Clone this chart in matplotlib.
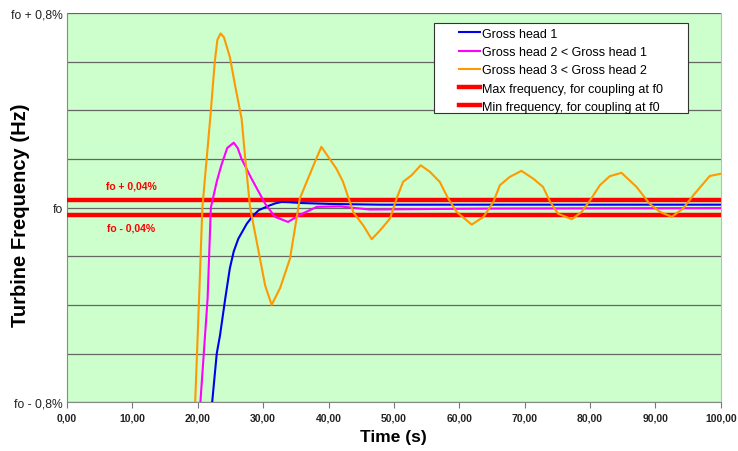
import numpy as np
import matplotlib
matplotlib.use('Agg')
import matplotlib.pyplot as plt
from matplotlib.patches import Rectangle

plt.rcParams['font.family'] = ['Liberation Sans', 'DejaVu Sans']

# ---- data (time in s, deviation from fo in %) ----
head1_t = [21.0, 22.2, 22.9, 23.4, 24.2, 24.9, 25.5, 26.2, 27.5, 28.4, 29.3,
           30.8, 31.8, 32.8, 34.0, 35.6, 40.2, 47.9, 60.0, 80.0, 100.0]
head1_y = [-1.2, -0.8, -0.6, -0.525, -0.374, -0.25, -0.18, -0.128, -0.066,
           -0.035, -0.011, 0.007, 0.017, 0.023, 0.022, 0.019, 0.015, 0.012,
           0.012, 0.012, 0.012]

head2_t = [19.5, 20.4, 21.5, 22.0, 22.9, 23.6, 24.5, 25.5, 26.1, 26.7, 28.2,
           30.3, 31.8, 33.8, 35.6, 38.2, 41.7, 46.3, 55.0, 65.0, 80.0, 100.0]
head2_y = [-1.2, -0.8, -0.374, 0.0, 0.107, 0.174, 0.245, 0.267, 0.245, 0.2,
           0.12, 0.016, -0.038, -0.059, -0.03, 0.003, 0.005, -0.008, -0.006,
           -0.004, -0.003, -0.002]

head3_t = [18.9, 19.6, 20.2, 20.7, 21.9, 22.6, 23.0, 23.5, 24.0, 24.9, 25.7,
           26.7, 27.3, 28.0, 29.3, 30.3, 31.3, 32.6, 34.1, 35.6, 37.7, 38.9,
           41.2, 42.2, 43.8, 45.3, 46.6, 47.9, 49.4, 50.4, 51.4, 52.7, 54.1,
           55.5, 57.0, 58.3, 59.6, 61.9, 63.7, 65.2, 66.2, 67.7, 69.5, 71.3,
           72.8, 73.9, 75.1, 77.2, 78.7, 80.0, 81.5, 83.0, 84.8, 87.1, 89.1,
           90.7, 92.5, 94.2, 95.8, 98.3, 100.0]
head3_y = [-1.2, -0.8, -0.374, 0.0, 0.366, 0.6, 0.69, 0.716, 0.70, 0.62, 0.503,
           0.366, 0.19, 0.0, -0.18, -0.32, -0.40, -0.33, -0.21, 0.037, 0.174,
           0.25, 0.16, 0.107, -0.02, -0.073, -0.13, -0.093, -0.045, 0.037,
           0.106, 0.133, 0.174, 0.147, 0.106, 0.037, -0.018, -0.07, -0.038,
           0.023, 0.092, 0.126, 0.151, 0.119, 0.085, 0.023, -0.025, -0.048,
           -0.018, 0.03, 0.092, 0.129, 0.143, 0.085, 0.016, -0.018, -0.038,
           -0.004, 0.051, 0.13, 0.139]

f_max = 0.032
f_min = -0.032

x_ticks = np.arange(0, 101, 10)
x_labels = [f'{v:.2f}'.replace('.', ',') for v in x_ticks]
y_grid = np.arange(-0.8, 0.81, 0.2)
y_labels = {-0.8: 'fo - 0,8%', 0.0: 'fo', 0.8: 'fo + 0,8%'}


def main():
    fig = plt.figure(figsize=(7.38, 4.52), dpi=100)
    ax = fig.add_axes([0.0908, 0.108, 0.886, 0.861])
    ax.set_facecolor('#ccffcc')

    for v in y_grid:
        ax.axhline(v, color='#666666', lw=0.9, zorder=1)

    kw = dict(lw=1.5, zorder=4, solid_joinstyle='round')
    ax.plot(head1_t, head1_y, color='#0000ee', label='Gross head 1', **kw)
    ax.plot(head2_t, head2_y, color='#ff00ff',
            label='Gross head 2 < Gross head 1', **kw)
    ax.plot(head3_t, head3_y, color='#ff9900',
            label='Gross head 3 < Gross head 2', **kw)
    ax.axhline(f_max, color='#ff0000', lw=3.2, zorder=3,
               label='Max frequency, for coupling at f0')
    ax.axhline(f_min, color='#ff0000', lw=3.2, zorder=3,
               label='Min frequency, for coupling at f0')

    ax.text(9.8, 0.09, 'fo + 0,04%', color='#ff0000', fontsize=7.5,
            fontweight='bold', ha='center', va='center')
    ax.text(9.8, -0.082, 'fo - 0,04%', color='#ff0000', fontsize=7.5,
            fontweight='bold', ha='center', va='center')

    ax.set_xlim(0, 100)
    ax.set_ylim(-0.8, 0.8)
    ax.set_xticks(x_ticks)
    ax.set_xticklabels(x_labels, fontsize=7.5, fontweight='bold',
                       color='#222222')
    ax.set_yticks(list(y_labels.keys()))
    ax.set_yticklabels(list(y_labels.values()), fontsize=8.7, color='#222222')
    ax.tick_params(axis='y', length=0, pad=3)
    ax.tick_params(axis='x', length=4, color='#777777', direction='out')

    for side in ['left', 'bottom']:
        ax.spines[side].set_color('#888888')
    ax.spines['right'].set_color('#bbbbbb')
    ax.spines['top'].set_visible(False)

    ax.set_xlabel('Time (s)', fontsize=12.5, fontweight='bold')
    ax.xaxis.set_label_coords(0.4985, -0.069)
    ax.set_ylabel('Turbine Frequency (Hz)', fontsize=14.5, fontweight='bold')
    ax.yaxis.set_label_coords(-0.057, 0.483)

    # legend box drawn separately to keep the wide left margin of the original
    ax.add_patch(Rectangle((0.5612, 0.743), 0.3883, 0.2313,
                           transform=ax.transAxes, facecolor='white',
                           edgecolor='#333333', lw=0.8, zorder=6))
    leg = ax.legend(loc='upper left', bbox_to_anchor=(0.599, 0.962),
                    fontsize=9, frameon=False, handlelength=1.7,
                    handletextpad=0.15, borderpad=0, labelspacing=0.5,
                    borderaxespad=0)
    leg.set_zorder(7)

    fig.savefig('out.png', dpi=100, facecolor='white')
    plt.close(fig)


if __name__ == '__main__':
    main()
